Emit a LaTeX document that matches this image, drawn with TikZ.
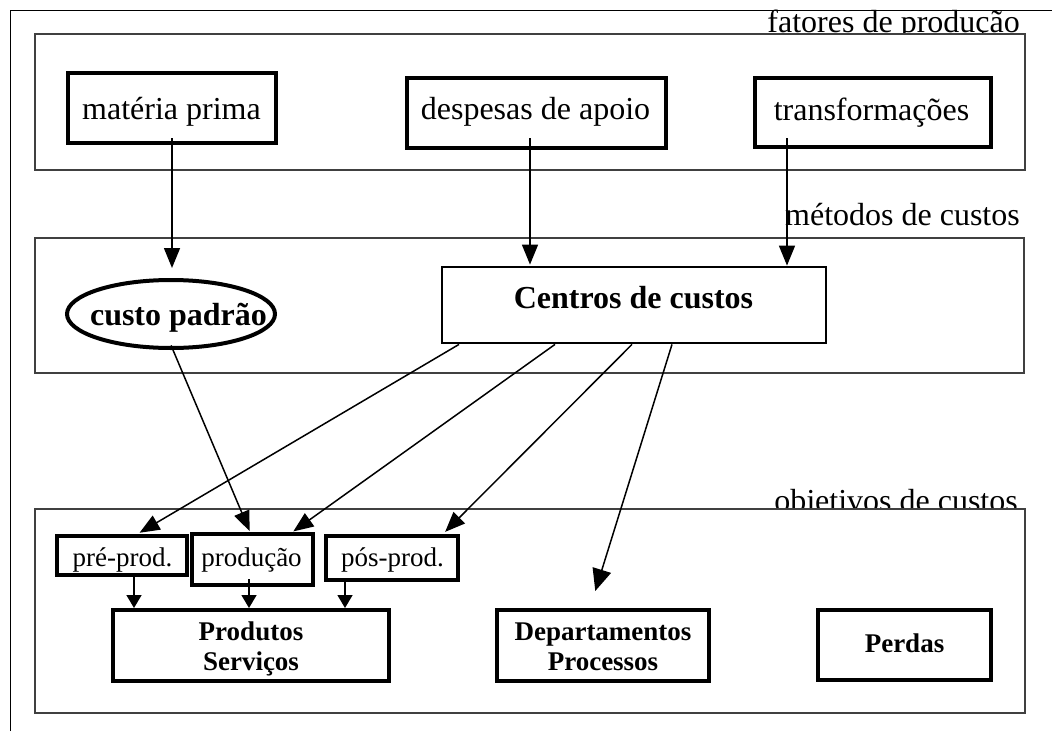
\documentclass[tikz,border=0pt]{standalone}
\usepackage{fontspec}
\setmainfont{Liberation Serif}
\usetikzlibrary{arrows.meta,shapes.geometric}
\tikzset{
  big/.style={font=\fontsize{32}{36}\selectfont},
  bigb/.style={font=\fontsize{32}{36}\selectfont\bfseries},
  small/.style={font=\fontsize{27}{30}\selectfont},
  smallb/.style={font=\fontsize{27}{30}\selectfont\bfseries},
  frame/.style={draw=black!75,line width=1.2pt,fill=white},
  thickbox/.style={draw,line width=4pt,fill=white,inner sep=0pt},
  txt/.style={anchor=base,inner sep=0pt},
  arr/.style={line width=1.5pt,-{Triangle[length=20pt,width=16pt]}},
  bigarr/.style={line width=1.5pt,-{Triangle[length=22pt,width=19pt]}},
  sarr/.style={line width=1.5pt,-{Triangle[length=13pt,width=15pt]}},
  lbl/.style={big,anchor=base east,inner sep=0pt}
}
\begin{document}
\begin{tikzpicture}[x=1pt,y=-1pt]
\useasboundingbox (0,0) rectangle (1052,731);
\draw[line width=1pt] (10.5,731) -- (10.5,10.5) -- (1052,10.5);
% level labels
\node[lbl] (l1) at (1020,32) {fatores de produção};
\node[lbl] (l2) at (1020,225) {métodos de custos};
\node[lbl] (l3) at (1018,511) {objetivos de custos};
% frames
\draw[frame] (35,34) rectangle (1025,170);
\draw[frame] (35,238) rectangle (1024,373);
\draw[frame] (35,509) rectangle (1025,713);
% top boxes
\node[thickbox,minimum width=208pt,minimum height=70pt] (mp) at (172,108) {};
\node[txt,big] (mpt) at (171.5,119) {matéria prima};
\node[thickbox,minimum width=259pt,minimum height=70pt] (da) at (536.5,113) {};
\node[txt,big] (dat) at (535.5,119) {despesas de apoio};
\node[thickbox,minimum width=236pt,minimum height=69pt] (tr) at (873,112.5) {};
\node[txt,big] (trt) at (871.5,120) {transformações};
% methods
\node[ellipse,draw,line width=4pt,fill=white,inner sep=0pt,minimum width=208pt,minimum height=68pt] (cp) at (171,314) {};
\node[txt,bigb] (cpt) at (178.5,325) {custo padrão};
\node[draw,line width=2.8pt,fill=white,minimum width=384pt,minimum height=76pt] (cc) at (634,305) {};
\node[txt,bigb] (cct) at (633.5,308) {Centros de custos};
% objectives
\node[thickbox,line width=3.5pt,minimum width=130pt,minimum height=39pt] (pre) at (122,555.5) {};
\node[txt,small] (pret) at (122.5,566) {pré-prod.};
\node[thickbox,minimum width=121pt,minimum height=51pt] (prod) at (252.5,559.5) {};
\node[txt,small] (prodt) at (251.5,566) {produção};
\node[thickbox,minimum width=132pt,minimum height=44pt] (pos) at (392,558) {};
\node[txt,small] (post) at (392.5,566) {pós-prod.};
\node[thickbox,minimum width=276pt,minimum height=71pt] (ps) at (251,645.5) {};
\node[txt,smallb] (ps1) at (251,640) {Produtos};
\node[txt,smallb] (ps2) at (251,670) {Serviços};
\node[thickbox,minimum width=212pt,minimum height=71pt] (dp) at (603,645.5) {};
\node[txt,smallb] (dp1) at (603,640) {Departamentos};
\node[txt,smallb] (dp2) at (603,670) {Processos};
\node[thickbox,minimum width=173pt,minimum height=70pt] (pe) at (904.5,645) {};
\node[txt,smallb] (pet) at (904.5,652) {Perdas};
% arrows top -> methods
\draw[arr,shorten <=-7pt,shorten >=10pt] (mp.south) -- (mp.south |- cp.north);
\draw[arr,shorten <=-12pt,shorten >=1pt] ([xshift=-6.5pt]da.south) -- ([xshift=-6.5pt]da.south |- cc.north);
\draw[arr,shorten <=-11pt] ([xshift=-86pt]tr.south) -- ([xshift=-86pt]tr.south |- cc.north);
% methods -> objectives
\draw[arr,shorten <=-5pt,shorten >=1pt] ([xshift=2pt]cp.south) -- ([xshift=-2.5pt]prod.north);
\draw[arr,shorten >=3pt] ([xshift=-175pt]cc.south) -- ([xshift=15pt]pre.north);
\draw[arr,shorten >=1pt] ([xshift=-79pt]cc.south) -- ([xshift=40pt]prod.north);
\draw[arr,shorten >=3pt] ([xshift=-2pt]cc.south) -- ([xshift=51pt]pos.north);
\draw[bigarr,shorten >=17.8pt] ([xshift=38pt]cc.south) -- ([xshift=-13pt]dp.north);
% small arrows
\draw[sarr] ([xshift=12pt]pre.south) -- ([xshift=12pt]pre.south |- ps.north);
\draw[sarr,shorten <=-8pt] ([xshift=-3.5pt]prod.south) -- ([xshift=-3.5pt]prod.south |- ps.north);
\draw[sarr,shorten <=-3pt] ([xshift=-47pt]pos.south) -- ([xshift=-47pt]pos.south |- ps.north);
\end{tikzpicture}
\end{document}
